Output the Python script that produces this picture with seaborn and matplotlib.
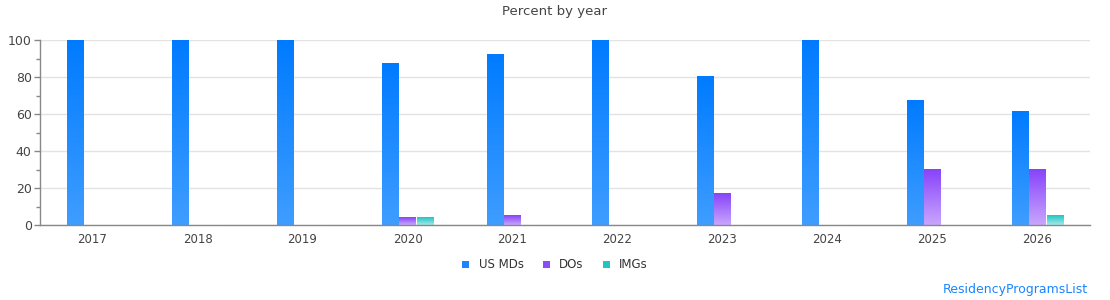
import numpy as np
import pandas as pd
import matplotlib
matplotlib.use("Agg")
import matplotlib.pyplot as plt
from matplotlib.colors import LinearSegmentedColormap
from matplotlib.patches import Patch
from matplotlib.ticker import MultipleLocator
import seaborn as sns

years = ["2017", "2018", "2019", "2020", "2021", "2022", "2023", "2024", "2025", "2026"]
us_mds = [100, 100, 100, 87.7, 92.6, 100, 80.7, 100, 67.7, 61.7]
dos = [0, 0, 0, 4.3, 5.6, 0, 17.3, 0, 30.3, 30.3]
imgs = [0, 0, 0, 4.3, 0, 0, 0, 0, 0, 5.4]
groups = ["US MDs", "DOs", "IMGs"]

# top colour, bottom colour, legend colour
grad_colors = {
    "US MDs": ("#007bff", "#3f9dff", "#1a85ff"),
    "DOs": ("#8743fa", "#c9a6fd", "#8a4ef8"),
    "IMGs": ("#1fc5c5", "#a6e9e9", "#22c4c4"),
}

df = pd.DataFrame({"year": years * 3,
                   "group": [g for g in groups for _ in years],
                   "pct": us_mds + dos + imgs})

sns.set_style("white")
plt.rcParams["font.family"] = ["DejaVu Sans"]

fig = plt.figure(figsize=(11.1, 3.0), dpi=100)
ax = fig.add_axes([40 / 1110, 75 / 300, 1050 / 1110, 185 / 300])

palette = {g: grad_colors[g][0] for g in groups}
sns.barplot(data=df, x="year", y="pct", hue="group", hue_order=groups,
            palette=palette, width=0.5, edgecolor="white", linewidth=1,
            legend=False, ax=ax)

ax.set_xlim(-0.5, len(years) - 0.5)
ax.set_ylim(0, 100)

# paint each bar with a vertical gradient
for container, g in zip(ax.containers, groups):
    top_c, bot_c, _ = grad_colors[g]
    cmap = LinearSegmentedColormap.from_list(g, [bot_c, top_c])
    grad = np.linspace(0, 1, 256).reshape(-1, 1)
    for bar in container:
        h = bar.get_height()
        if h <= 0:
            continue
        x0 = bar.get_x()
        w = bar.get_width()
        ax.imshow(grad, cmap=cmap, aspect="auto", origin="lower",
                  extent=[x0 + 0.005, x0 + w - 0.005, 0, h - 0.4], zorder=2)
        bar.set_visible(False)

ax.set_xlim(-0.5, len(years) - 0.5)
ax.set_ylim(0, 100)

ax.yaxis.set_major_locator(MultipleLocator(20))
ax.yaxis.set_minor_locator(MultipleLocator(10))
ax.grid(axis="y", color="#e3e3e3", linewidth=1, zorder=0)
ax.set_axisbelow(True)
for s in ["top", "right"]:
    ax.spines[s].set_visible(False)
for s in ["left", "bottom"]:
    ax.spines[s].set_color("#888888")
    ax.spines[s].set_linewidth(1)
ax.tick_params(axis="y", which="major", length=4, width=1, color="#888888",
               labelsize=9, labelcolor="#444444", left=True, pad=2)
ax.tick_params(axis="y", which="minor", length=3, width=1, color="#888888", left=True)
ax.tick_params(axis="x", length=0, labelsize=8.5, labelcolor="#444444", pad=6)
ax.set_xlabel("")
ax.set_ylabel("")

fig.text(0.5, 0.96, "Percent by year", ha="center", va="center",
         fontsize=9.5, color="#444444")

handles = [Patch(facecolor=grad_colors[g][2], edgecolor="none", label=g) for g in groups]
fig.legend(handles=handles, loc="center", bbox_to_anchor=(0.5, 1 - 265 / 300),
           ncol=3, frameon=False, fontsize=8.5, handlelength=0.6, handleheight=0.6,
           handletextpad=0.8, columnspacing=1.6, labelcolor="#333333")

fig.text(1088 / 1110, 1 - 289 / 300, "ResidencyProgramsList", ha="right", va="center",
         fontsize=9, color="#1a85ff")

fig.savefig("out.png", dpi=100)
